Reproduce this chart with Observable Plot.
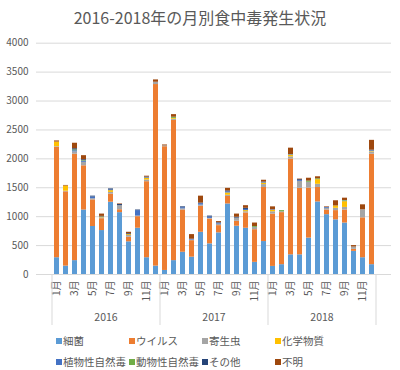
<!DOCTYPE html>
<html><head><meta charset="utf-8">
<script src="https://cdn.jsdelivr.net/npm/d3@7"></script>
<script src="https://cdn.jsdelivr.net/npm/@observablehq/plot@0.6"></script>
<style>
body{margin:0;background:#fff;font-family:"Noto Sans CJK JP","Noto Sans",sans-serif;}
#wrap{width:400px;height:370px;position:relative;overflow:hidden;background:#fff}
#title{position:absolute;top:5px;left:0;width:400px;text-align:center;font-size:16px;color:#595959;line-height:24px}
#chart{position:absolute;top:34px;left:0}
.li{position:absolute;font-size:10.5px;color:#595959;line-height:14px;white-space:nowrap}
.li span.sw{display:inline-block;width:6px;height:6px;margin-right:1px;vertical-align:1px}
</style></head>
<body><div id="wrap">
<div id="title">2016-2018年の月別食中毒発生状況</div>
<div id="chart"></div>
<div id="legend"></div>
</div>
<script>
const years = [2016, 2017, 2018];
const months = [1,2,3,4,5,6,7,8,9,10,11,12];
const categories = ["細菌","ウイルス","寄生虫","化学物質","植物性自然毒","動物性自然毒","その他","不明"];
const colors = ["#5B9BD5","#ED7D31","#A5A5A5","#FFC000","#4472C4","#70AD47","#264478","#9E480E"];

const bacteria  = [290,145,240,1115,830,760,1250,1070,565,800,290,145, 70,240,385,300,730,530,720,1220,835,800,210,570, 140,170,340,340,630,1255,1035,945,890,400,290,170];
const virus     = [1910,1285,1840,765,460,205,140,50,80,200,1315,3140, 2140,2425,730,285,450,430,125,130,85,265,565,935, 905,900,1655,1150,865,250,80,160,225,35,690,1910];
const parasite  = [10,10,40,60,20,15,30,70,30,10,30,40, 15,20,20,10,20,10,25,20,55,20,40,50, 40,15,40,120,100,55,30,40,45,40,140,40];
const chemical  = [80,90,0,0,0,15,30,0,15,0,30,0, 0,15,0,0,0,0,0,40,0,20,0,25, 25,0,30,0,0,80,0,40,100,0,0,10];
const plantTox  = [0,0,20,20,30,0,10,0,0,95,10,0, 0,0,20,15,25,25,15,20,0,20,0,10, 10,0,10,15,0,0,15,0,10,0,0,10];
const animalTox = [0,0,15,10,0,0,0,0,0,0,0,0, 0,20,0,0,0,0,0,0,0,0,15,0, 0,20,0,0,20,15,0,0,10,0,0,0];
const other     = [0,0,20,15,15,10,20,20,15,10,10,0, 0,0,15,0,10,15,10,15,15,20,0,10, 0,0,0,15,0,0,0,0,0,0,0,10];
const unknown   = [20,10,95,70,0,40,0,10,25,0,15,40, 15,45,0,80,120,0,20,45,55,45,60,30, 50,0,110,10,50,35,10,90,40,25,85,170];
const yTicks = [0,500,1000,1500,2000,2500,3000,3500,4000];

const series = [bacteria, virus, parasite, chemical, plantTox, animalTox, other, unknown];
const keys = years.flatMap(y => months.map(m => `${y}-${String(m).padStart(2,"0")}`));
const data = [];
categories.forEach((c, ci) => keys.forEach((k, i) => data.push({key: k, cat: c, value: series[ci][i]})));

const W = 400, H = 296, mL = 36, mR = 9, mT = 8.7, mB = 56;
const plot = Plot.plot({
  width: W, height: H,
  marginLeft: mL, marginRight: mR, marginTop: mT, marginBottom: mB,
  style: {fontFamily: '"Noto Sans CJK JP","Noto Sans",sans-serif', color: "#595959", background: "#fff"},
  x: {domain: keys, padding: 0.45, label: null},
  y: {domain: [0, 4000], label: null},
  color: {domain: categories, range: colors},
  marks: [
    Plot.gridY(yTicks, {stroke: "#D9D9D9", strokeOpacity: 1, strokeWidth: 1}),
    Plot.axisY(yTicks, {tickSize: 0, tickPadding: 8, fontSize: 10, label: null, fill: "#595959", tickFormat: d => String(d)}),
    Plot.barY(data, {x: "key", y: "value", fill: "cat", order: categories}),
    Plot.ruleY([0], {stroke: "#D9D9D9"}),
    Plot.axisX({tickSize: 0, tickRotate: -90, tickPadding: 6, fontSize: 10, label: null, fill: "#595959",
      tickFormat: k => { const m = +k.slice(5); return m % 2 === 1 ? `${m}月` : ""; }})
  ]
});
document.getElementById("chart").appendChild(plot);

// year labels and separators using the plot's x scale
const xs = plot.scale("x");
const step = xs.step;
const svg = d3.select(plot);
const baseY = H - mB;
const g = svg.append("g");
years.forEach((yr, i) => {
  const first = xs.apply(`${yr}-01`) - (step - xs.bandwidth) / 2;
  const last = xs.apply(`${yr}-12`) + xs.bandwidth + (step - xs.bandwidth) / 2;
  if (i === 0) g.append("line").attr("x1", first).attr("x2", first).attr("y1", baseY).attr("y2", baseY + 51).attr("stroke", "#D9D9D9");
  g.append("line").attr("x1", last).attr("x2", last).attr("y1", baseY).attr("y2", baseY + 51).attr("stroke", "#D9D9D9");
  g.append("text").attr("x", (first + last) / 2).attr("y", baseY + 47).attr("text-anchor", "middle")
    .attr("font-size", 10.5).attr("fill", "#595959").text(yr);
});

// legend
const leg = document.getElementById("legend");
const colX = [56, 129, 202, 275];
const rowY = [334, 355];
categories.forEach((c, i) => {
  const d = document.createElement("div");
  d.className = "li";
  d.style.left = colX[i % 4] + "px";
  d.style.top = rowY[Math.floor(i / 4)] + "px";
  d.innerHTML = `<span class="sw" style="background:${colors[i]}"></span>${c}`;
  leg.appendChild(d);
});
</script>
</body></html>
